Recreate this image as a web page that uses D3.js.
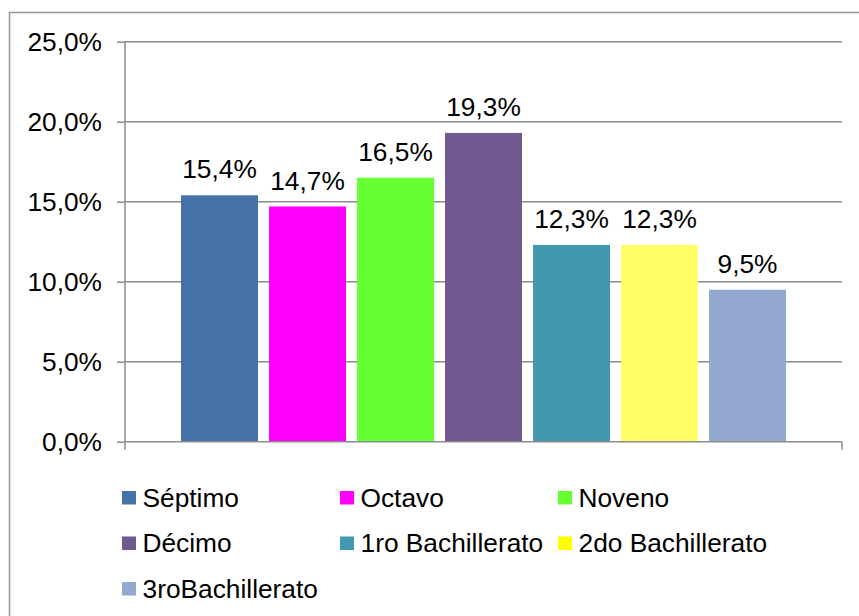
<!DOCTYPE html>
<html><head><meta charset="utf-8">
<script src="https://cdn.jsdelivr.net/npm/d3@7"></script>
<style>body{margin:0;background:#fff;} svg{display:block;} text{font-family:"Liberation Sans",Arial,sans-serif;fill:#000;}</style>
</head><body>
<svg id="c" width="859" height="616"></svg>
<script>
const categories = ["Séptimo","Octavo","Noveno","Décimo","1ro Bachillerato","2do Bachillerato","3roBachillerato"];
const values = [15.4, 14.7, 16.5, 19.3, 12.3, 12.3, 9.5];
const barColors = ["#4572A7","#FF00FF","#66FF33","#71588F","#4198AF","#FFFF66","#93A9CF"];
const legendColors = ["#4572A7","#FF00FF","#66FF33","#71588F","#4198AF","#FFFF00","#93A9CF"];
const yTicks = [0,5,10,15,20,25];

const svg = d3.select("#c");
const fs = 26.3;
const fmt = v => v.toFixed(1).replace(".", ",") + "%";

svg.append("rect").attr("x",9.5).attr("y",12.5).attr("width",900).attr("height",700)
  .attr("fill","none").attr("stroke","#999").attr("stroke-width",1.5);

const pL = 125, pR = 842, pT = 41.7, pB = 441.7;
const y = d3.scaleLinear().domain([0,25]).range([pB, pT]);
const cx = (pL+pR)/2;
const x = d3.scaleBand().domain(categories).range([cx-302.5, cx+302.5]).paddingInner(0.125).paddingOuter(0);

// gridlines
svg.append("g").selectAll("line").data(yTicks.filter(d=>d>0)).join("line")
  .attr("x1", pL).attr("x2", pR).attr("y1", d=>y(d)).attr("y2", d=>y(d))
  .attr("stroke","#8c8c8c").attr("stroke-width",1.5);

// y axis
const ya = d3.axisLeft(y).tickValues(yTicks).tickSize(8).tickPadding(15).tickFormat(fmt);
const yg = svg.append("g").attr("transform",`translate(${pL},0)`).call(ya);
yg.select(".domain").remove();
yg.selectAll(".tick line").attr("stroke","#8c8c8c").attr("stroke-width",1.5);
yg.selectAll(".tick text").attr("font-size",fs).attr("font-family","Liberation Sans, Arial, sans-serif").attr("fill","#000");
svg.append("line").attr("x1",pL).attr("x2",pL).attr("y1",pT).attr("y2",pB+8)
  .attr("stroke","#8c8c8c").attr("stroke-width",1.5);

// bars
svg.append("g").selectAll("rect").data(values).join("rect")
  .attr("x",(d,i)=>x(categories[i])).attr("width",x.bandwidth())
  .attr("y",d=>y(d)).attr("height",d=>pB-y(d))
  .attr("fill",(d,i)=>barColors[i]);

// x axis
svg.append("line").attr("x1",pL).attr("x2",pR).attr("y1",pB).attr("y2",pB)
  .attr("stroke","#8c8c8c").attr("stroke-width",1.5);
svg.append("line").attr("x1",pR).attr("x2",pR).attr("y1",pB).attr("y2",pB+8)
  .attr("stroke","#8c8c8c").attr("stroke-width",1.5);

// labels
svg.append("g").selectAll("text").data(values).join("text")
  .attr("x",(d,i)=>x(categories[i])+x.bandwidth()/2).attr("y",d=>y(d)-17)
  .attr("text-anchor","middle").attr("font-size",fs).text(fmt);

// legend
const lg = svg.append("g");
categories.forEach((c,i)=>{
  const col = i%3, row = Math.floor(i/3);
  const lx = 122 + col*218, ly = 506.5 + row*45.5;
  lg.append("rect").attr("x",lx).attr("y",ly-15.5).attr("width",14).attr("height",13.5).attr("fill",legendColors[i]);
  lg.append("text").attr("x",lx+20.5).attr("y",ly).attr("font-size",fs).text(c);
});
</script>
</body></html>
